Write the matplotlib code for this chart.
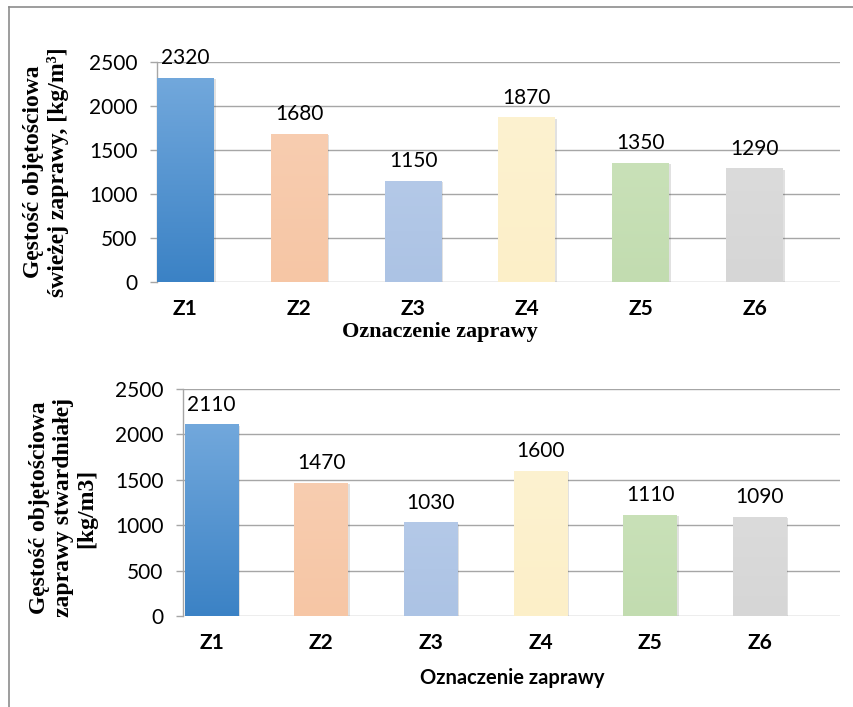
import numpy as np
import matplotlib
matplotlib.use("Agg")
import matplotlib.pyplot as plt
from matplotlib.lines import Line2D
from matplotlib.colors import LinearSegmentedColormap
import matplotlib.patheffects as pe

# data
mortars = ["Z1", "Z2", "Z3", "Z4", "Z5", "Z6"]
fresh_density = [2320, 1680, 1150, 1870, 1350, 1290]
hardened_density = [2110, 1470, 1030, 1600, 1110, 1090]
yticks = [0, 500, 1000, 1500, 2000, 2500]

# bar fills, (top, bottom) of the gradient
bar_colors = [("#72a8dc", "#3b82c5"), ("#f8cdb0", "#f6c6a5"), ("#b4c9e8", "#acc3e4"),
              ("#fdf2d0", "#fcefc8"), ("#c9e1b8", "#c2dcb0"), ("#dbdbdb", "#d6d6d6")]

GRID = "#a6a6a6"
SANS = "Lato"
SERIF = "Liberation Serif"
FS = 15

plt.rcParams["font.family"] = SANS


def gradient_bars(ax, x, values, width):
    bars = ax.bar(x, values, width=width, color="none", edgecolor="none", zorder=3)
    grad = np.linspace(0, 1, 256).reshape(-1, 1)
    for b, (top, bot) in zip(bars, bar_colors):
        cmap = LinearSegmentedColormap.from_list("g", [bot, top])
        x0, y0 = b.get_x(), b.get_y()
        w, h = b.get_width(), b.get_height()
        # soft shadow behind the bar
        sh = plt.Rectangle((x0, y0), w, h, facecolor="#bbbbbb", edgecolor="none",
                           alpha=0.3, zorder=2.5,
                           path_effects=[pe.withSimplePatchShadow(offset=(1.2, -0.8),
                                                                  alpha=0.15)])
        ax.add_patch(sh)
        im = ax.imshow(grad, cmap=cmap, origin="lower", aspect="auto",
                       extent=(x0, x0 + w, y0, y0 + h), zorder=3)
        im.set_clip_path(b)
    return bars


def style_axes(ax, xlim):
    ax.set_xlim(*xlim)
    ax.set_ylim(0, 2500)
    ax.set_yticks(yticks)
    ax.set_xticks(np.arange(len(mortars)))
    ax.set_xticklabels(mortars, fontweight="bold", fontsize=FS, fontfamily=SANS)
    ax.tick_params(axis="x", length=0, pad=12)
    ax.tick_params(axis="y", length=5, width=1, color=GRID, pad=9, labelsize=FS,
                   direction="out")
    ax.yaxis.grid(True, color=GRID, linewidth=1, zorder=0)
    ax.set_axisbelow(True)
    for s in ["top", "right", "bottom"]:
        ax.spines[s].set_visible(False)
    ax.spines["left"].set_color(GRID)
    ax.spines["left"].set_linewidth(1)


def value_labels(ax, x, values):
    for xi, v in zip(x, values):
        ax.annotate(str(v), (xi, v), xytext=(0, 7), textcoords="offset points",
                    ha="center", va="bottom", fontsize=FS, fontfamily=SANS)


fig = plt.figure(figsize=(8.54, 7.07), dpi=100)
fig.patch.set_facecolor("white")

x = np.arange(len(mortars))

# upper chart - fresh mortar
ax1 = fig.add_axes([0.1838, 0.6011, 0.7998, 0.3112])
gradient_bars(ax1, x, fresh_density, 0.5)
style_axes(ax1, (-0.25, 5.75))
value_labels(ax1, x, fresh_density)
fig.text(0.0539, 0.7567, "Gęstość objętościowa\nświeżej zaprawy, [kg/m³]",
         rotation=90, ha="center", va="center", fontsize=17, fontweight="bold",
         fontfamily=SERIF, linespacing=1.15)
fig.text(0.515, 0.5305, "Oznaczenie zaprawy", ha="center", va="center",
         fontsize=16, fontweight="bold", fontfamily=SERIF)

# lower chart - hardened mortar
ax2 = fig.add_axes([0.2143, 0.1287, 0.7693, 0.3211])
gradient_bars(ax2, x, hardened_density, 0.49)
style_axes(ax2, (-0.26, 5.73))
value_labels(ax2, x, hardened_density)
fig.text(0.0738, 0.2815, "Gęstość objętościowa\nzaprawy stwardniałej\n[kg/m3]",
         rotation=90, ha="center", va="center", fontsize=17, fontweight="bold",
         fontfamily=SERIF, linespacing=1.15)
fig.text(0.5995, 0.041, "Oznaczenie zaprawy", ha="center", va="center",
         fontsize=14.5, fontweight="bold", fontfamily=SANS)

# page frame lines
fig.add_artist(Line2D([9 / 854, 9 / 854], [0, 1 - 7 / 707], transform=fig.transFigure,
                      color="#8c8c8c", linewidth=1.2))
fig.add_artist(Line2D([9 / 854, 1], [1 - 7 / 707, 1 - 7 / 707], transform=fig.transFigure,
                      color="#8c8c8c", linewidth=1.2))

fig.savefig("out.png", dpi=100)
